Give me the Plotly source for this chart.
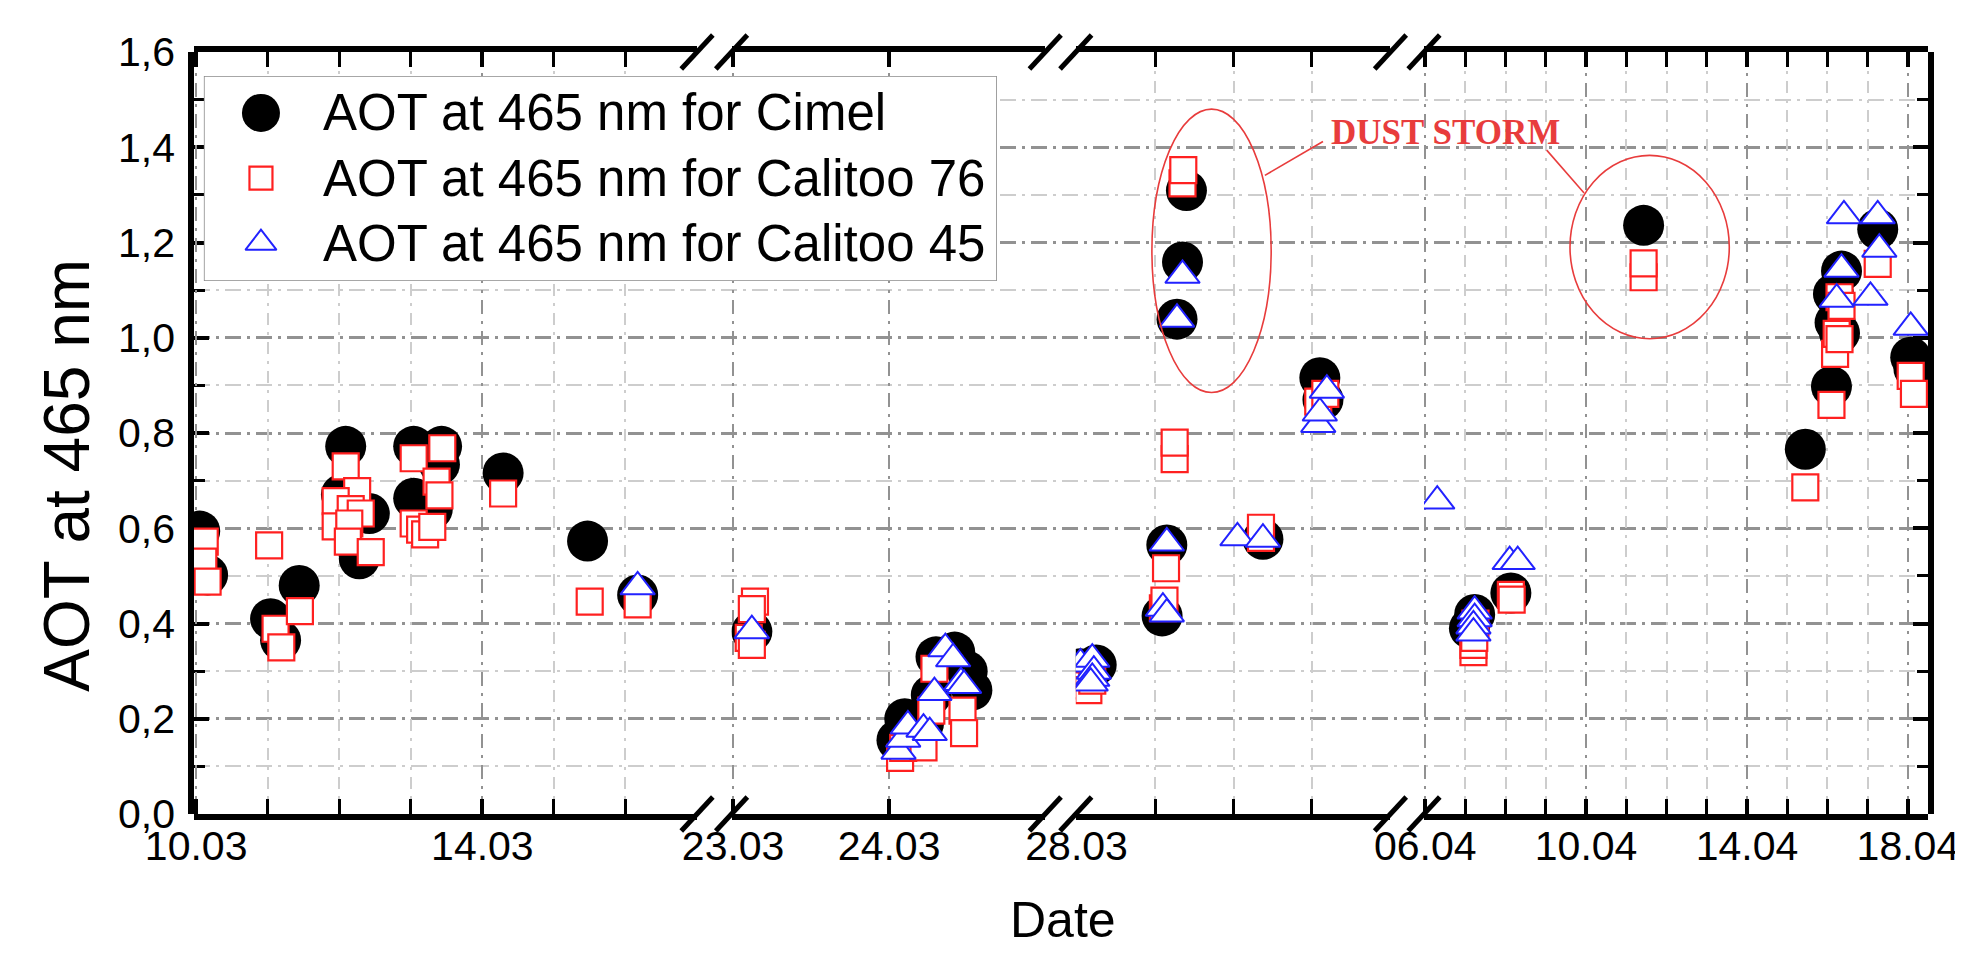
import plotly.graph_objects as go

# ---------------- data ----------------
# x values are day numbers: March d -> d, April d -> 31 + d
cimel_day = [10.05, 10.16, 11.04, 11.18, 11.44, 12.09, 12.03, 12.42, 12.28, 13.04, 13.43, 13.40, 13.04, 13.30, 14.29, 15.47, 16.17,
             23.12, 24.05, 24.10, 24.22, 24.27, 24.30, 24.42, 24.50, 24.53,
             28.05, 28.25, 29.15, 29.09, 29.28, 29.35, 29.40, 30.375, 31.10, 31.14,
             38.10, 38.23, 39.13, 42.43, 46.45, 47.10, 47.15, 47.19, 47.30, 47.35, 48.25, 49.07, 49.15]
cimel_aot = [0.594, 0.502, 0.41, 0.365, 0.48, 0.772, 0.671, 0.631, 0.536, 0.772, 0.772, 0.734, 0.663, 0.64, 0.716, 0.573, 0.46,
             0.383, 0.155, 0.20, 0.19, 0.25, 0.33, 0.34, 0.30, 0.26,
             0.305, 0.313, 0.565, 0.416, 1.039, 1.159, 1.309, 0.577, 0.916, 0.87,
             0.39, 0.419, 0.464, 1.236, 0.766, 0.898, 1.092, 1.032, 1.01, 1.14, 1.228, 0.959, 0.935]

c76_day = [10.12, 10.10, 10.16, 11.02, 11.11, 11.19, 11.45, 12.09, 12.25, 11.95, 11.95, 12.16, 12.30, 12.14, 12.12, 12.44,
           13.04, 13.44, 13.36, 13.40, 13.04, 13.13, 13.20, 13.30, 14.29, 15.50, 16.17,
           23.14, 23.12, 23.10, 23.12, 24.07, 24.09, 24.22, 24.27, 24.29, 24.47, 24.48,
           28.10, 28.15, 28.20, 29.10, 29.12, 29.14, 29.25, 29.25, 29.35, 29.36, 30.35, 30.35, 31.08, 31.17,
           38.20, 38.20, 38.22, 38.25, 39.13, 39.15, 42.43, 42.43, 46.45, 47.10, 47.19, 47.23, 47.30, 47.30, 47.35, 48.25, 49.07, 49.15]
c76_aot = [0.572, 0.53, 0.488, 0.564, 0.389, 0.35, 0.426, 0.73, 0.678, 0.657, 0.604, 0.64, 0.631, 0.61, 0.572, 0.55,
           0.747, 0.768, 0.698, 0.669, 0.61, 0.597, 0.587, 0.603, 0.673, 0.446, 0.44,
           0.446, 0.43, 0.37, 0.355, 0.118, 0.139, 0.14, 0.217, 0.305, 0.217, 0.17,
           0.27, 0.26, 0.28, 0.432, 0.448, 0.516, 0.745, 0.78, 1.324, 1.352, 0.58, 0.601, 0.866, 0.882,
           0.34, 0.355, 0.37, 0.40, 0.46, 0.45, 1.127, 1.156, 0.686, 0.859, 0.966, 1.008, 0.997, 1.085, 1.067, 1.155, 0.92, 0.882]

c45_day = [16.17,
           23.12, 24.06, 24.09, 24.12, 24.22, 24.26, 24.29, 24.36, 24.41, 24.46, 24.48,
           28.05, 28.20, 28.22, 28.20, 28.18, 29.10, 29.15, 29.15, 29.28, 29.35, 30.05, 30.375, 31.08, 31.10, 31.19,
           37.30, 38.23, 38.23, 38.20, 38.20, 39.10, 39.30, 47.23, 47.35, 47.41, 48.07, 48.25, 48.29, 49.07]
c45_aot = [0.477,
           0.385, 0.132, 0.157, 0.185, 0.178, 0.171, 0.255, 0.347, 0.326, 0.276, 0.27,
           0.315, 0.325, 0.30, 0.285, 0.275, 0.432, 0.42, 0.569, 1.039, 1.131, 0.58, 0.577, 0.818, 0.842, 0.89,
           0.657, 0.426, 0.41, 0.395, 0.38, 0.53, 0.53, 1.081, 1.144, 1.256, 1.085, 1.256, 1.186, 1.022]

series_names = ["AOT at 465 nm for Cimel", "AOT at 465 nm for Calitoo 76", "AOT at 465 nm for Calitoo 45"]

# broken x axis: day range of each segment, tick values and labels
seg_ranges = [[9.97, 17.0], [22.99, 25.0], [27.99, 32.0], [36.97, 49.5]]
seg_major = [[10, 14], [23, 24], [28], [37, 41, 45, 49]]
seg_major_text = [["10.03", "14.03"], ["23.03", "24.03"], ["28.03"], ["06.04", "10.04", "14.04", "18.04"]]
seg_minor = [[11, 12, 13, 15, 16], [], [29, 30, 31], [38, 39, 40, 42, 43, 44, 46, 47, 48]]

y_major = [0, 0.2, 0.4, 0.6, 0.8, 1.0, 1.2, 1.4, 1.6]
y_minor = [0.1, 0.3, 0.5, 0.7, 0.9, 1.1, 1.3, 1.5]

# ---------------- layout geometry ----------------
W, H = 1963, 954
seg_px = [[186, 696], [731, 1049], [1080, 1399], [1433, 1944]]
PL, PR, PT, PB = seg_px[0][0], seg_px[-1][1], 44, 806
PW = PR - PL
PH = PB - PT
seg_dom = [[(a - PL) / PW, (b - PL) / PW] for a, b in seg_px]

FONT = "Liberation Sans, Arial, sans-serif"
SERIF = "Liberation Serif, Times New Roman, serif"
RED = "#ff2020"
BLUE = "#2222ff"
MAJ_GRID = "#929292"
MIN_GRID = "#cdcdcd"
DASH = "16px,6px,3px,6px"

styles = [
    dict(symbol="circle", size=41, color="black", line=dict(width=0)),
    dict(symbol="square", size=26, color="white", line=dict(color=RED, width=2.2)),
    dict(symbol="triangle-up", size=30, color="white", line=dict(color=BLUE, width=2.0)),
]
series = [(cimel_day, cimel_aot), (c76_day, c76_aot), (c45_day, c45_aot)]

fig = go.Figure()

# empty trace on the full-width subplot that carries the y axis and its grid
fig.add_trace(go.Scatter(x=[], y=[], xaxis="x", yaxis="y", showlegend=False, hoverinfo="skip"))

for (days, vals), st, name in zip(series, styles, series_names):
    for i, (lo, hi) in enumerate(seg_ranges):
        xs = [d for d, v in zip(days, vals) if lo <= d <= hi]
        ys = [v for d, v in zip(days, vals) if lo <= d <= hi]
        fig.add_trace(go.Scatter(
            x=xs, y=ys, mode="markers", name=name, showlegend=False,
            xaxis="x%d" % (i + 2), yaxis="y2", marker=st))

# hand-made legend (big symbols) in its own small subplot
leg_rows = [0.82, 0.502, 0.185]
for st, yy in zip(styles, leg_rows):
    fig.add_trace(go.Scatter(x=[0.072], y=[yy], mode="markers", xaxis="x6", yaxis="y3",
                             showlegend=False, hoverinfo="skip",
                             marker=dict(st, size=st["size"] - 3)))

layout = dict(
    width=W, height=H,
    margin=dict(l=PL, r=W - PR, t=PT, b=H - PB, pad=0),
    paper_bgcolor="white", plot_bgcolor="rgba(0,0,0,0)",
    separators=",.",
    showlegend=False,
    xaxis=dict(domain=[0, 1], range=[0, 1], visible=False, anchor="y", fixedrange=True),
    yaxis=dict(domain=[0, 1], range=[0, 1.6], anchor="x",
               tickmode="array", tickvals=y_major, tickformat=".1f",
               ticks="inside", ticklen=15, tickwidth=4, tickcolor="black",
               showline=True, linewidth=5.5, linecolor="black", mirror="allticks",
               showgrid=True, gridcolor=MAJ_GRID, gridwidth=3, griddash=DASH,
               zeroline=False,
               minor=dict(tickmode="array", tickvals=y_minor, ticks="inside", ticklen=11, tickwidth=3,
                          tickcolor="black", showgrid=True, gridcolor=MIN_GRID, gridwidth=2, griddash=DASH),
               tickfont=dict(family=FONT, size=41, color="black"), ticklabelstandoff=5),
    yaxis2=dict(domain=[0, 1], range=[0, 1.6], anchor="x2", visible=False, showgrid=False, zeroline=False),
    xaxis6=dict(domain=[(196 - PL) / PW, (1000 - PL) / PW], range=[0, 1], anchor="y3", visible=False),
    yaxis3=dict(domain=[(PB - 273) / PH, (PB - 68) / PH], range=[0, 1], anchor="x6", visible=False),
)

for i in range(4):
    ax = dict(domain=seg_dom[i], range=seg_ranges[i], anchor="y2",
              tickmode="array", tickvals=seg_major[i], ticktext=seg_major_text[i],
              ticks="inside", ticklen=15, tickwidth=3.5, tickcolor="black",
              showline=True, linewidth=5.5, linecolor="black", mirror="allticks",
              showgrid=True, gridcolor=MAJ_GRID, gridwidth=2.4, griddash="14px,7px,3px,7px",
              zeroline=False, ticklabeloverflow="allow",
              tickfont=dict(family=FONT, size=41, color="black"), ticklabelstandoff=-9)
    if seg_minor[i]:
        ax["minor"] = dict(tickmode="array", tickvals=seg_minor[i], ticks="inside", ticklen=15,
                           tickwidth=2.5, tickcolor="black", showgrid=True, gridcolor=MIN_GRID,
                           gridwidth=2, griddash="12px,7px,3px,7px")
    layout["xaxis%d" % (i + 2)] = ax

fig.update_layout(**layout)

shapes = []
# legend box
shapes.append(dict(type="rect", xref="x6", yref="y3", x0=0, x1=1, y0=0, y1=1,
                   fillcolor="white", line=dict(color="#8a8a8a", width=1.6), layer="below"))
# axis-break slashes at bottom and top
dx, dy = 16 / PW, 17 / PH
for i in range(3):
    for xc in (seg_dom[i][1], seg_dom[i + 1][0]):
        for yc in (0, 1):
            shapes.append(dict(type="line", xref="paper", yref="paper",
                               x0=xc - dx, y0=yc - dy, x1=xc + dx, y1=yc + dy,
                               line=dict(color="black", width=5), layer="above"))
# dust storm ellipses and connectors
shapes.append(dict(type="circle", xref="x4", yref="y2", x0=28.96, x1=30.48, y0=0.885, y1=1.48,
                   line=dict(color="#e83c3c", width=1.6), layer="above"))
shapes.append(dict(type="circle", xref="x5", yref="y2", x0=40.6, x1=44.56, y0=0.998, y1=1.383,
                   line=dict(color="#e83c3c", width=1.6), layer="above"))
shapes.append(dict(type="line", xref="x4", yref="y2", x0=30.4, y0=1.341, x1=31.14, y1=1.412,
                   line=dict(color="#e83c3c", width=1.6), layer="above"))
shapes.append(dict(type="line", xref="x5", yref="y2", x0=40.02, y0=1.394, x1=40.95, y1=1.304,
                   line=dict(color="#e83c3c", width=1.6), layer="above"))

annotations = []
for name, yy in zip(series_names, leg_rows):
    annotations.append(dict(xref="x6", yref="y3", x=0.148, y=yy, text=name, showarrow=False,
                            xanchor="left", yanchor="middle",
                            font=dict(family=FONT, size=51, color="black")))
annotations.append(dict(xref="x5", yref="y2", x=37.5, y=1.43, text="<b>DUST STORM</b>", showarrow=False,
                        xanchor="center", yanchor="middle",
                        font=dict(family=SERIF, size=35, color="#e83c3c")))
annotations.append(dict(xref="paper", yref="paper", x=(1067 - PL) / PW, y=(PB - 912) / PH, text="Date",
                        showarrow=False, xanchor="center", yanchor="middle",
                        font=dict(family=FONT, size=50, color="black")))
annotations.append(dict(xref="paper", yref="paper", x=(57 - PL) / PW, y=(PB - 467) / PH,
                        text="AOT at 465 nm", textangle=-90, showarrow=False,
                        xanchor="center", yanchor="middle",
                        font=dict(family=FONT, size=64, color="black")))

fig.update_layout(shapes=shapes, annotations=annotations)
fig.write_html("out.html")
